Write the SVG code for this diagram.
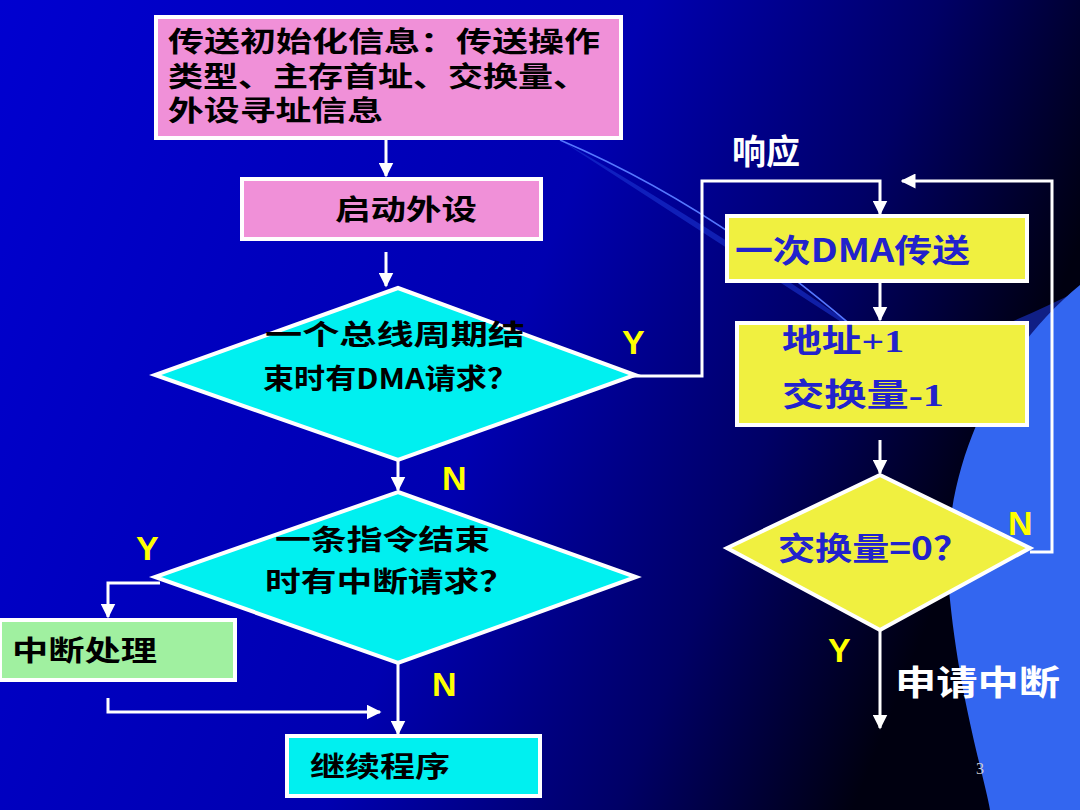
<svg xmlns="http://www.w3.org/2000/svg" width="1080" height="810" viewBox="0 0 1080 810">
<defs>
<linearGradient id="bg" x1="0" y1="0" x2="1" y2="0.3">
<stop offset="0" stop-color="#0000d0"/><stop offset="0.55" stop-color="#0000b0"/><stop offset="0.8" stop-color="#000066"/><stop offset="1" stop-color="#000010"/>
</linearGradient>
<marker id="ah" viewBox="0 0 10 10" refX="9" refY="5" markerWidth="5" markerHeight="5" orient="auto"><path d="M0,0 L10,5 L0,10 z" fill="#fff"/></marker>
<style>
.c{fill:none;stroke:#fff;stroke-width:3}
.n{stroke:#fff;stroke-width:4}
.t{font-family:"Noto Sans CJK SC",sans-serif;font-weight:bold;font-size:28px;fill:#000}
.b{font-family:"Noto Sans CJK SC",sans-serif;font-weight:bold;font-size:32px;fill:#2222cc}
.y{font-family:"Liberation Sans",sans-serif;font-weight:bold;font-size:34px;fill:#ffff00}
.w{font-family:"Noto Sans CJK SC",sans-serif;font-weight:bold;font-size:34px;fill:#fff}
</style>
</defs>
<rect width="1080" height="810" fill="url(#bg)"/>
<path d="M560,140 C700,220 820,300 900,360 C960,400 1020,430 1080,455 L1080,290 C1000,330 940,350 900,360 Z" fill="#1a33d0" opacity="0.6"/>
<path d="M1080,285 C1000,350 935,470 950,600 C960,700 985,780 990,810 L1080,810 Z" fill="#3366f0"/>
<path d="M560,140 C700,200 800,280 880,350" fill="none" stroke="#5577ff" stroke-width="1.5"/>
<g id="connectors">
<line class="c" x1="386" y1="140" x2="386" y2="176" marker-end="url(#ah)"/>
<line class="c" x1="386" y1="252" x2="386" y2="286" marker-end="url(#ah)"/>
<line class="c" x1="398" y1="460" x2="398" y2="490" marker-end="url(#ah)"/>
<polyline class="c" points="160,583 108,583 108,617" marker-end="url(#ah)"/>
<polyline class="c" points="108,698 108,712 380,712" marker-end="url(#ah)"/>
<line class="c" x1="398" y1="663" x2="398" y2="734" marker-end="url(#ah)"/>
<polyline class="c" points="622,376 702,376 702,181 880,181 880,214" marker-end="url(#ah)"/>
<line class="c" x1="880" y1="283" x2="880" y2="320" marker-end="url(#ah)"/>
<line class="c" x1="880" y1="440" x2="880" y2="473" marker-end="url(#ah)"/>
<polyline class="c" points="1030,552 1052,552 1052,181 902,181" marker-end="url(#ah)"/>
<line class="c" x1="880" y1="630" x2="880" y2="728" marker-end="url(#ah)"/>
</g>
<g id="init"><rect class="n" x="156" y="17" width="465" height="121" fill="#f090d8"/>
<text class="t" lengthAdjust="spacingAndGlyphs"><tspan x="168" y="52" textLength="432" lengthAdjust="spacingAndGlyphs">传送初始化信息：传送操作</tspan></text>
<text class="t"><tspan x="168" y="87" textLength="420" lengthAdjust="spacingAndGlyphs">类型、主存首址、交换量、</tspan></text>
<text class="t"><tspan x="168" y="121" textLength="215" lengthAdjust="spacingAndGlyphs">外设寻址信息</tspan></text></g>
<g id="start"><rect class="n" x="242" y="179" width="299" height="60" fill="#f090d8"/><text class="t" x="335" y="220" textLength="142" lengthAdjust="spacingAndGlyphs">启动外设</text></g>
<g id="d1"><polygon class="n" points="398,288 635,375 398,460 155,375" fill="#00f0f0"/>
<text class="t" x="265" y="345" textLength="260" lengthAdjust="spacingAndGlyphs">一个总线周期结</text>
<text class="t" x="263" y="389" textLength="255" lengthAdjust="spacingAndGlyphs">束时有DMA请求？</text></g>
<g id="d2"><polygon class="n" points="398,492 636,577 398,663 155,577" fill="#00f0f0"/>
<text class="t" x="275" y="550" textLength="215" lengthAdjust="spacingAndGlyphs">一条指令结束</text>
<text class="t" x="265" y="592" textLength="250" lengthAdjust="spacingAndGlyphs">时有中断请求？</text></g>
<g id="int"><rect class="n" x="0" y="620" width="235" height="60" fill="#a0f0a0"/><text class="t" x="12" y="661" textLength="145" lengthAdjust="spacingAndGlyphs">中断处理</text></g>
<g id="cont"><rect class="n" x="287" y="736" width="253" height="60" fill="#00f0f0"/><text class="t" x="310" y="777" textLength="140" lengthAdjust="spacingAndGlyphs">继续程序</text></g>
<g id="dma"><rect class="n" x="727" y="216" width="300" height="65" fill="#f0f040"/><text class="b" x="735" y="262" textLength="235" lengthAdjust="spacingAndGlyphs">一次DMA传送</text></g>
<g id="upd"><rect class="n" x="737" y="323" width="290" height="102" fill="#f0f040"/>
<text class="b" x="782" y="352" textLength="122" lengthAdjust="spacingAndGlyphs">地址<tspan font-family="Liberation Serif">+1</tspan></text>
<text class="b" x="782" y="406" textLength="162" lengthAdjust="spacingAndGlyphs">交换量<tspan font-family="Liberation Serif">-1</tspan></text></g>
<g id="d3"><polygon class="n" points="880,475 1030,548 880,630 727,548" fill="#f0f040"/><text class="b" x="778" y="560" textLength="192" lengthAdjust="spacingAndGlyphs">交换量=0？</text></g>
<g id="labels">
<text class="y" x="622" y="354">Y</text>
<text class="y" x="442" y="490">N</text>
<text class="y" x="136" y="560">Y</text>
<text class="y" x="432" y="696">N</text>
<text class="y" x="1008" y="535">N</text>
<text class="y" x="828" y="662">Y</text>
<text class="w" x="732" y="164">响应</text>
<text class="w" x="895" y="695" textLength="165" lengthAdjust="spacingAndGlyphs">申请中断</text>
<text x="976" y="774" font-family="Liberation Serif,serif" font-size="16" fill="#ccc">3</text>
</g>
</svg>
